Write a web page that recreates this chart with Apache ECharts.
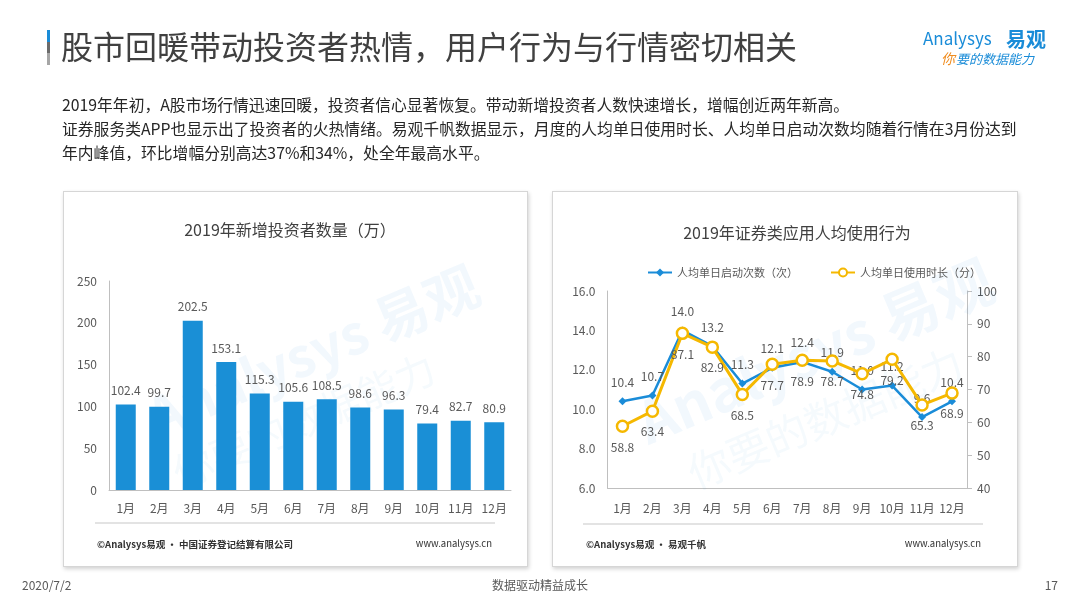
<!DOCTYPE html>
<html><head><meta charset="utf-8">
<script src="https://cdn.jsdelivr.net/npm/echarts@6/dist/echarts.min.js"></script>
<style>
html,body{margin:0;padding:0;background:#fff;}
#wrap{position:relative;width:1080px;height:608px;overflow:hidden;}
.panel{position:absolute;background:#fff;border:1px solid #d6d6d6;box-shadow:1px 2px 4px rgba(0,0,0,0.18);box-sizing:border-box;}
#c{position:absolute;left:0;top:0;width:1080px;height:608px;}
</style>
</head><body><div id="wrap">
<div class="panel" style="left:63px;top:191px;width:465px;height:376px;"></div>
<div class="panel" style="left:552px;top:191px;width:466px;height:376px;"></div>
<div id="c"></div></div>
<script>
var months = ['1月','2月','3月','4月','5月','6月','7月','8月','9月','10月','11月','12月'];
var newInvestors = [102.4, 99.7, 202.5, 153.1, 115.3, 105.6, 108.5, 98.6, 96.3, 79.4, 82.7, 80.9];
var dailyLaunches = [10.4, 10.7, 14.0, 13.2, 11.3, 12.1, 12.4, 11.9, 11.0, 11.2, 9.6, 10.4];
var dailyMinutes = [58.8, 63.4, 87.1, 82.9, 68.5, 77.7, 78.9, 78.7, 74.8, 79.2, 65.3, 68.9];
var leftTitle = '2019年新增投资者数量（万）';
var rightTitle = '2019年证券类应用人均使用行为';
var seriesNames = ['人均单日启动次数（次）', '人均单日使用时长（分）'];

var FONT = '"Noto Sans CJK SC","Noto Sans",sans-serif';
var BLUE = '#1a8cd8', YELLOW = '#f5b800', GREY = '#595959', AXIS = '#bfbfbf';

function txt(x, y, s, o) {
  o = o || {};
  return { type: 'text', x: x, y: y, z: o.z || 10, rotation: o.rot || 0,
    style: { text: s, fill: o.color || '#404040', font: (o.italic ? 'italic ' : '') + (o.weight || 'normal') + ' ' + (o.size || 12) + 'px ' + FONT,
      textAlign: o.align || 'left', textVerticalAlign: 'middle', opacity: o.opacity == null ? 1 : o.opacity } };
}
function hline(x1, x2, y) {
  return { type: 'line', z: 5, shape: { x1: x1, y1: y, x2: x2, y2: y }, style: { stroke: '#c8c8c8', lineWidth: 1.2 } };
}

var chart = echarts.init(document.getElementById('c'));
var graphics = [
  // title bar
  { type: 'rect', shape: { x: 47, y: 30, width: 3, height: 12 }, style: { fill: '#1a8cd8' } },
  { type: 'rect', shape: { x: 47, y: 42, width: 3, height: 11 }, style: { fill: '#6b6b6b' } },
  { type: 'rect', shape: { x: 47, y: 53, width: 3, height: 12 }, style: { fill: '#a6a6a6' } },
  txt(61, 47, '股市回暖带动投资者热情，用户行为与行情密切相关', { size: 32, color: '#404040' }),
  // logo
  txt(923, 39, 'Analysys', { size: 17, color: BLUE }),
  txt(1006, 39, '易观', { size: 20, color: BLUE, weight: 'bold' }),
  txt(941, 59, '你', { size: 14, color: '#f08c1e', italic: true }),
  txt(956, 59, '要的数据能力', { size: 13, color: BLUE, italic: true }),
  // paragraph
  txt(62, 105, '2019年年初，A股市场行情迅速回暖，投资者信心显著恢复。带动新增投资者人数快速增长，增幅创近两年新高。', { size: 15.8, color: '#262626' }),
  txt(62, 129, '证券服务类APP也显示出了投资者的火热情绪。易观千帆数据显示，月度的人均单日使用时长、人均单日启动次数均随着行情在3月份达到', { size: 15.8, color: '#262626' }),
  txt(62, 153, '年内峰值，环比增幅分别高达37%和34%，处全年最高水平。', { size: 15.8, color: '#262626' }),
  // chart titles
  txt(290, 230, leftTitle, { size: 16, color: '#404040', align: 'center' }),
  txt(797, 233, rightTitle, { size: 16, color: '#404040', align: 'center' }),
  hline(95, 495, 523),
  hline(583, 983, 524),
  txt(97, 544, '©Analysys易观 · 中国证券登记结算有限公司', { size: 9.5, color: '#333', weight: 'bold' }),
  txt(492, 543, 'www.analysys.cn', { size: 9.5, color: '#333', align: 'right' }),
  txt(586, 544, '©Analysys易观 · 易观千帆', { size: 9.5, color: '#333', weight: 'bold' }),
  txt(981, 543, 'www.analysys.cn', { size: 9.5, color: '#333', align: 'right' }),
  // watermarks
  txt(150, 420, 'Analysys 易观', { size: 54, color: BLUE, weight: 'bold', opacity: 0.06, rot: 0.4, z: 1 }),
  txt(175, 475, '你要的数据能力', { size: 40, color: BLUE, opacity: 0.045, rot: 0.4, z: 1 }),
  txt(640, 425, 'Analysys 易观', { size: 58, color: BLUE, weight: 'bold', opacity: 0.06, rot: 0.4, z: 1 }),
  txt(690, 475, '你要的数据能力', { size: 42, color: BLUE, opacity: 0.045, rot: 0.4, z: 1 }),
  // page footer
  txt(22, 585, '2020/7/2', { size: 12, color: GREY }),
  txt(540, 585, '数据驱动精益成长', { size: 12, color: GREY, align: 'center' }),
  txt(1058, 585, '17', { size: 12, color: GREY, align: 'right' })
];

var labelStyle = { color: GREY, fontSize: 12, fontFamily: FONT };
chart.setOption({
  animation: false,
  textStyle: { fontFamily: FONT },
  graphic: graphics,
  legend: {
    left: 642, top: 262, itemWidth: 24, itemHeight: 10, itemGap: 32,
    textStyle: { color: GREY, fontSize: 11, fontFamily: FONT },
    data: seriesNames
  },
  grid: [
    { left: 109, top: 281, width: 402, height: 209 },
    { left: 607.5, top: 291, width: 359.5, height: 197 }
  ],
  xAxis: [
    { type: 'category', gridIndex: 0, data: months,
      axisLine: { lineStyle: { color: AXIS } }, axisTick: { show: false },
      axisLabel: { color: GREY, fontSize: 12, margin: 12, interval: 0 } },
    { type: 'category', gridIndex: 1, data: months,
      axisLine: { lineStyle: { color: AXIS } }, axisTick: { show: false },
      axisLabel: { color: GREY, fontSize: 12, margin: 14, interval: 0 } }
  ],
  yAxis: [
    { type: 'value', gridIndex: 0, min: 0, max: 250, interval: 50,
      axisLine: { show: true, lineStyle: { color: AXIS } }, axisTick: { show: false }, splitLine: { show: false },
      axisLabel: { color: GREY, fontSize: 12, margin: 12 } },
    { type: 'value', gridIndex: 1, min: 6, max: 16, interval: 2, position: 'left',
      axisLine: { show: true, lineStyle: { color: AXIS } }, axisTick: { show: false }, splitLine: { show: false },
      axisLabel: { color: GREY, fontSize: 12, margin: 12, formatter: function (v) { return v.toFixed(1); } } },
    { type: 'value', gridIndex: 1, min: 40, max: 100, interval: 10, position: 'right',
      axisLine: { show: true, lineStyle: { color: AXIS } }, axisTick: { show: true, length: 5, lineStyle: { color: AXIS } }, splitLine: { show: false },
      axisLabel: { color: GREY, fontSize: 12, margin: 10 } }
  ],
  series: [
    { type: 'bar', xAxisIndex: 0, yAxisIndex: 0, data: newInvestors, barWidth: 20,
      itemStyle: { color: '#1a8fd6' },
      label: Object.assign({ show: true, position: 'top', distance: 8 }, labelStyle) },
    { type: 'line', name: seriesNames[0], xAxisIndex: 1, yAxisIndex: 1, data: dailyLaunches, z: 3,
      symbol: 'diamond', symbolSize: 8, lineStyle: { width: 2.5, color: BLUE }, itemStyle: { color: BLUE },
      label: Object.assign({ show: true, position: 'top', distance: 9, formatter: function (p) { return p.value.toFixed(1); } }, labelStyle) },
    { type: 'line', name: seriesNames[1], xAxisIndex: 1, yAxisIndex: 2, data: dailyMinutes, z: 4,
      symbol: 'circle', symbolSize: 11, lineStyle: { width: 3, color: YELLOW },
      itemStyle: { color: '#fff', borderColor: YELLOW, borderWidth: 2.5 },
      label: Object.assign({ show: true, position: 'bottom', distance: 8, formatter: function (p) { return p.value.toFixed(1); } }, labelStyle) }
  ]
});
</script></body></html>
